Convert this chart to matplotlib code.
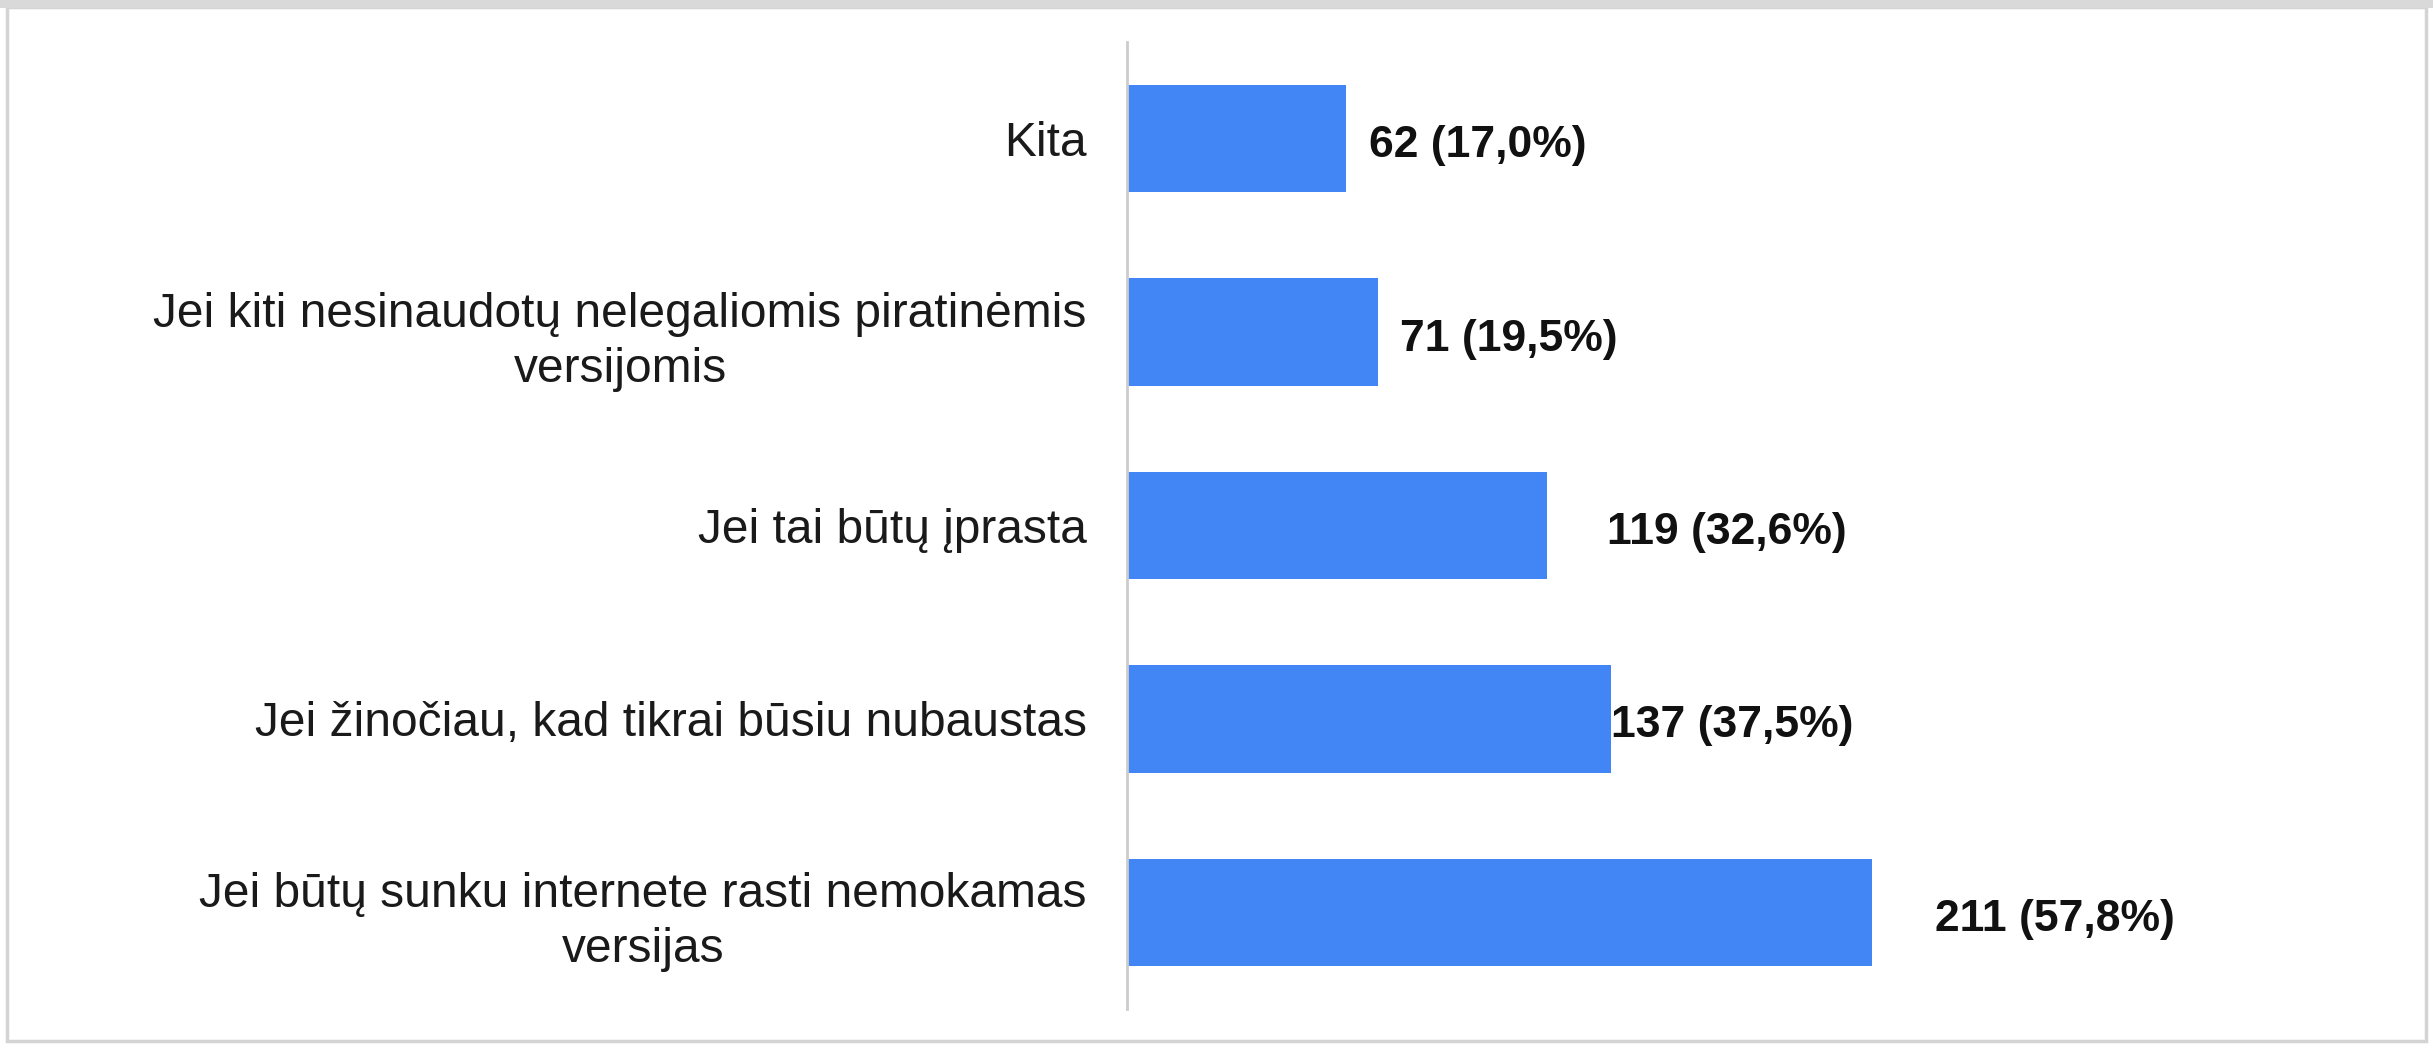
import matplotlib
matplotlib.use("Agg")
import matplotlib.pyplot as plt
from matplotlib.patches import Rectangle

categories = [
    "Kita",
    "Jei kiti nesinaudotų nelegaliomis piratinėmis\nversijomis",
    "Jei tai būtų įprasta",
    "Jei žinočiau, kad tikrai būsiu nubaustas",
    "Jei būtų sunku internete rasti nemokamas\nversijas",
]
counts = [62, 71, 119, 137, 211]
percents = ["17,0%", "19,5%", "32,6%", "37,5%", "57,8%"]

# label horizontal gap (points) after bar end, as in the reference
label_gap = [16.5, 16, 43.5, 0.5, 45.5]

W, H, DPI = 2433, 1044, 100
fig = plt.figure(figsize=(W / DPI, H / DPI), dpi=DPI)
fig.patch.set_facecolor("white")

ax_left = 1127 / W
ax_right = 2400 / W
ax_bottom = 1 - 1009 / H
ax_top = 1 - 42 / H
ax = fig.add_axes([ax_left, ax_bottom, ax_right - ax_left, ax_top - ax_bottom])

xmax = (2400 - 1127) / 3.53
y = list(range(len(categories)))
ax.barh(y, counts, height=0.555, color="#4285F4", zorder=2)
ax.set_ylim(len(categories) - 0.5, -0.5)
ax.set_xlim(0, xmax)

for s in ["top", "right", "bottom"]:
    ax.spines[s].set_visible(False)
ax.spines["left"].set_color("#cccccc")
ax.spines["left"].set_linewidth(2)
ax.set_xticks([])
ax.set_yticks(y)
ax.set_yticklabels(categories, fontsize=34.5, family=["Liberation Sans", "DejaVu Sans"],
                   color="#1a1a1a", multialignment="center", linespacing=1.27)
ax.tick_params(axis="y", length=0, pad=29)

for yi, c, p, g in zip(y, counts, percents, label_gap):
    ax.annotate(f"{c} ({p})", xy=(c, yi), xytext=(g, -5), textcoords="offset points",
                ha="left", va="center", fontsize=32, fontweight="bold",
                family=["Liberation Sans", "DejaVu Sans"], color="#111111")

fig.patches.append(Rectangle((0.003, 0.003), 0.994, 0.99, transform=fig.transFigure,
                             fill=False, edgecolor="#d4d4d4", linewidth=2.5))
fig.patches.append(Rectangle((0.0, 0.992), 1.0, 0.008, transform=fig.transFigure,
                             facecolor="#d9d9d9", edgecolor="none"))

fig.savefig("out.png", dpi=DPI, facecolor="white")
